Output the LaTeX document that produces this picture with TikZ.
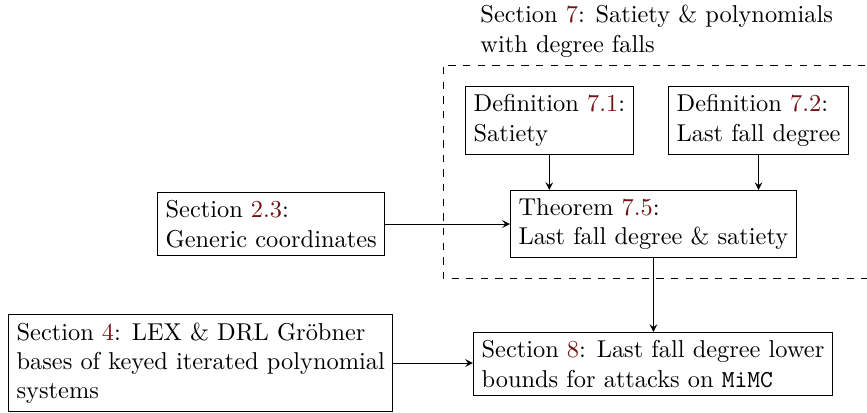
\documentclass[tikz,border=0pt]{standalone}
\usepackage{xcolor}

\definecolor{refred}{rgb}{0.45,0.08,0.08}
\newcommand{\refnum}[1]{\textcolor{refred}{#1}}

\tikzset{
  box/.style={draw, align=left, anchor=north west},
  >=stealth
}

\begin{document}
\begin{tikzpicture}[x=0.41pt,y=0.41pt,yscale=-1,xscale=1]
\useasboundingbox (0,0) rectangle (867,413);

%Shape: Dashed frame [Section 7]
\draw [dashed] (880,65) -- (443,65) -- (443,278) -- (880,278) ;

% Text Node
\node (sec7) [anchor=north west, align=left, inner sep=0pt] at (480,5)
  {Section \refnum{7}: Satiety \& polynomials\\with degree falls};

%Shape: Rectangle nodes
\node (def71) [box] at (465,86) {Definition \refnum{7.1}:\\Satiety};
\node (def72) [box] at (668,86) {Definition \refnum{7.2}:\\Last fall degree};
\node (thm75) [box] at (510,190) {Theorem \refnum{7.5}:\\Last fall degree \& satiety};
\node (sec23) [box] at (157,192) {Section \refnum{2.3}:\\Generic coordinates};
\node (sec4) [box] at (8,314) {Section \refnum{4}: LEX \& DRL Gr\"obner\\bases of keyed iterated polynomial\\systems};
\node (sec8) [box] at (473,332) {Section \refnum{8}: Last fall degree lower\\bounds for attacks on \texttt{MiMC}};

%Straight Lines
\draw [->] (def71.south) -- (def71.south |- thm75.north) ;
\draw [->] (def72.south) -- (def72.south |- thm75.north) ;
\draw [->] (sec23.east) -- (sec23.east -| thm75.west) ;
\draw [->] (thm75.south) -- (thm75.south |- sec8.north) ;
\draw [->] (sec4.east) -- (sec4.east -| sec8.west) ;

\end{tikzpicture}
\end{document}
